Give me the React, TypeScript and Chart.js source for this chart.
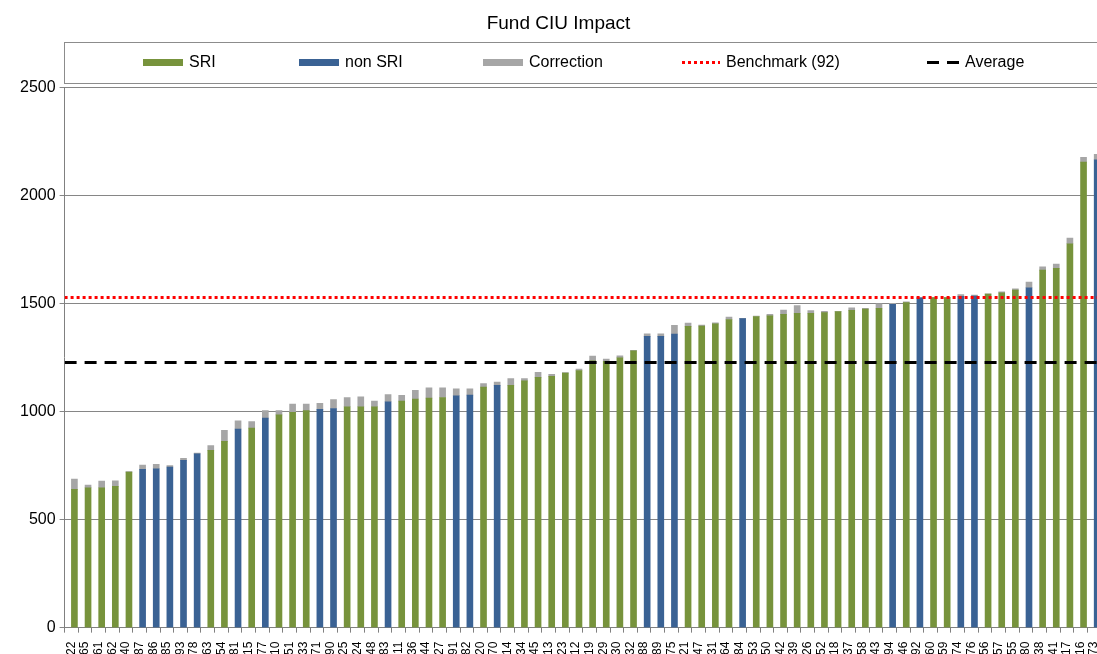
import React, { useEffect, useRef } from "react";
import { Chart, registerables } from "chart.js";

Chart.register(...registerables);

const fundLabels: string[] = ["22","65","61","62","40","87","86","85","93","78","63","54","81","15","77","10","51","33","71","90","25","24","48","83","11","36","44","27","91","82","20","70","14","34","45","13","23","12","19","29","30","32","88","89","75","21","47","31","64","84","53","50","42","39","26","52","18","37","58","43","94","46","92","60","59","74","76","56","57","55","80","38","41","17","16","73"];

// S = SRI, N = non SRI
const fundTypes: string[] = ["S","S","S","S","S","N","N","N","N","N","S","S","N","S","N","S","S","S","N","N","S","S","S","N","S","S","S","S","N","N","S","N","S","S","S","S","S","S","S","S","S","S","N","N","N","S","S","S","S","N","S","S","S","S","S","S","S","S","S","S","N","S","N","S","S","N","N","S","S","S","N","S","S","S","S","N"];

const impactValues: number[] = [640,648,648,654,720,733,736,744,775,805,821,863,920,924,970,985,997,1005,1011,1015,1023,1023,1023,1046,1049,1059,1063,1066,1074,1077,1114,1122,1122,1143,1159,1164,1179,1191,1236,1233,1250,1282,1349,1349,1360,1395,1397,1407,1427,1431,1441,1444,1451,1456,1456,1459,1464,1469,1475,1479,1497,1505,1527,1528,1528,1534,1536,1545,1550,1563,1574,1656,1664,1778,2156,2167];

const correctionValues: number[] = [48,12,31,26,3,20,20,6,9,3,22,51,38,30,35,20,38,30,28,41,43,46,26,33,27,40,48,45,32,29,16,15,31,10,23,9,2,6,22,11,9,2,12,12,40,16,4,5,11,1,2,7,20,36,12,6,1,12,4,21,5,4,2,1,1,8,4,1,5,6,26,15,20,26,22,25];

const benchmarkValue = 1529;
const averageValue = 1228;

const yTicks = { min: 0, max: 2500, step: 500 };

const sriValues = impactValues.map((v, i) => (fundTypes[i] === "S" ? v : null));
const nonSriValues = impactValues.map((v, i) => (fundTypes[i] === "N" ? v : null));

const FONT = "'Liberation Sans', Arial, Helvetica, sans-serif";
const GREEN = "#77933C";
const BLUE = "#3A6294";
const GRAY = "#A6A6A6";

const legendItems = [
  { label: "SRI", kind: "box", color: GREEN, x: 143, w: 40 },
  { label: "non SRI", kind: "box", color: BLUE, x: 299, w: 40 },
  { label: "Correction", kind: "box", color: GRAY, x: 483, w: 40 },
  { label: "Benchmark (92)", kind: "dot", color: "#FF0000", x: 682, w: 38 },
  { label: "Average", kind: "dash", color: "#000000", x: 927, w: 32 },
];

const boxLegend = {
  id: "boxLegend",
  afterDraw(chart: any) {
    const ctx = chart.ctx;
    ctx.save();
    ctx.strokeStyle = "#8c8c8c";
    ctx.lineWidth = 1;
    ctx.strokeRect(64.5, 42.5, 1060, 41);
    const cy = 62.5;
    ctx.font = `16px ${FONT}`;
    ctx.textBaseline = "middle";
    ctx.textAlign = "left";
    for (const it of legendItems) {
      if (it.kind === "box") {
        ctx.fillStyle = it.color;
        ctx.fillRect(it.x, cy - 3.5, it.w, 7);
      } else {
        ctx.strokeStyle = it.color;
        ctx.lineWidth = 3;
        ctx.setLineDash(it.kind === "dot" ? [3, 3] : [12, 8]);
        ctx.beginPath();
        ctx.moveTo(it.x, cy);
        ctx.lineTo(it.x + it.w, cy);
        ctx.stroke();
        ctx.setLineDash([]);
      }
      ctx.fillStyle = "#000";
      ctx.fillText(it.label, it.x + it.w + 6, cy);
    }
    ctx.restore();
  },
};

export default function App() {
  const ref = useRef<HTMLCanvasElement | null>(null);
  useEffect(() => {
    if (!ref.current) return;
    Chart.defaults.font.family = FONT;
    const chart = new Chart(ref.current, {
      type: "bar",
      data: {
        labels: fundLabels,
        datasets: [
          {
            type: "line",
            label: "Average",
            xAxisID: "xLine",
            stack: "avg",
            data: [{ x: 0, y: averageValue }, { x: 1, y: averageValue }],
            borderColor: "#000",
            borderWidth: 3,
            borderDash: [12, 8],
            pointRadius: 0,
            fill: false,
            order: 0,
          } as any,
          {
            type: "line",
            label: "Benchmark (92)",
            xAxisID: "xLine",
            stack: "bench",
            data: [{ x: 0, y: benchmarkValue }, { x: 1, y: benchmarkValue }],
            borderColor: "#FF0000",
            borderWidth: 3,
            borderDash: [3, 3],
            pointRadius: 0,
            fill: false,
            order: 1,
          } as any,
          {
            label: "SRI",
            data: sriValues,
            backgroundColor: GREEN,
            stack: "s",
            barThickness: 6,
            order: 5,
          },
          {
            label: "non SRI",
            data: nonSriValues,
            backgroundColor: BLUE,
            stack: "s",
            barThickness: 6,
            order: 5,
          },
          {
            label: "Correction",
            data: correctionValues,
            backgroundColor: GRAY,
            stack: "s",
            barThickness: 6,
            order: 5,
          },
        ],
      },
      options: {
        responsive: false,
        animation: false,
        devicePixelRatio: 1,
        layout: { padding: { left: 16, right: 39, bottom: 0, top: 0 } },
        plugins: {
          legend: { display: false },
          tooltip: { enabled: false },
          title: {
            display: true,
            text: "Fund CIU Impact",
            color: "#000",
            font: { size: 19, weight: "normal", family: FONT },
            padding: { top: 12, bottom: 53 },
          },
        },
        scales: {
          x: {
            stacked: true,
            grid: {
              display: true,
              drawOnChartArea: false,
              drawTicks: true,
              tickLength: 5,
              color: "#808080",
              offset: true,
            },
            border: { color: "#808080", width: 1 },
            ticks: {
              autoSkip: false,
              maxRotation: 90,
              minRotation: 90,
              color: "#000",
              font: { size: 12, family: FONT },
              padding: 9,
            },
          },
          xLine: {
            type: "linear",
            display: false,
            offset: false,
            grid: { offset: false },
            min: 0,
            max: 1,
          },
          y: {
            stacked: true,
            min: yTicks.min,
            max: yTicks.max,
            ticks: {
              stepSize: yTicks.step,
              color: "#000",
              font: { size: 16, family: FONT },
              padding: 4,
              callback: (v: any) => String(v),
            },
            grid: { color: "#868686", tickLength: 5, lineWidth: 1 },
            border: { color: "#808080", width: 1 },
          },
        },
      },
      plugins: [boxLegend],
    });
    return () => chart.destroy();
  }, []);

  return (
    <div style={{ position: "fixed", left: 0, top: 0, width: 1097, height: 654, overflow: "hidden", background: "#fff" }}>
      <canvas ref={ref} width={1140} height={664} style={{ display: "block" }} />
    </div>
  );
}
